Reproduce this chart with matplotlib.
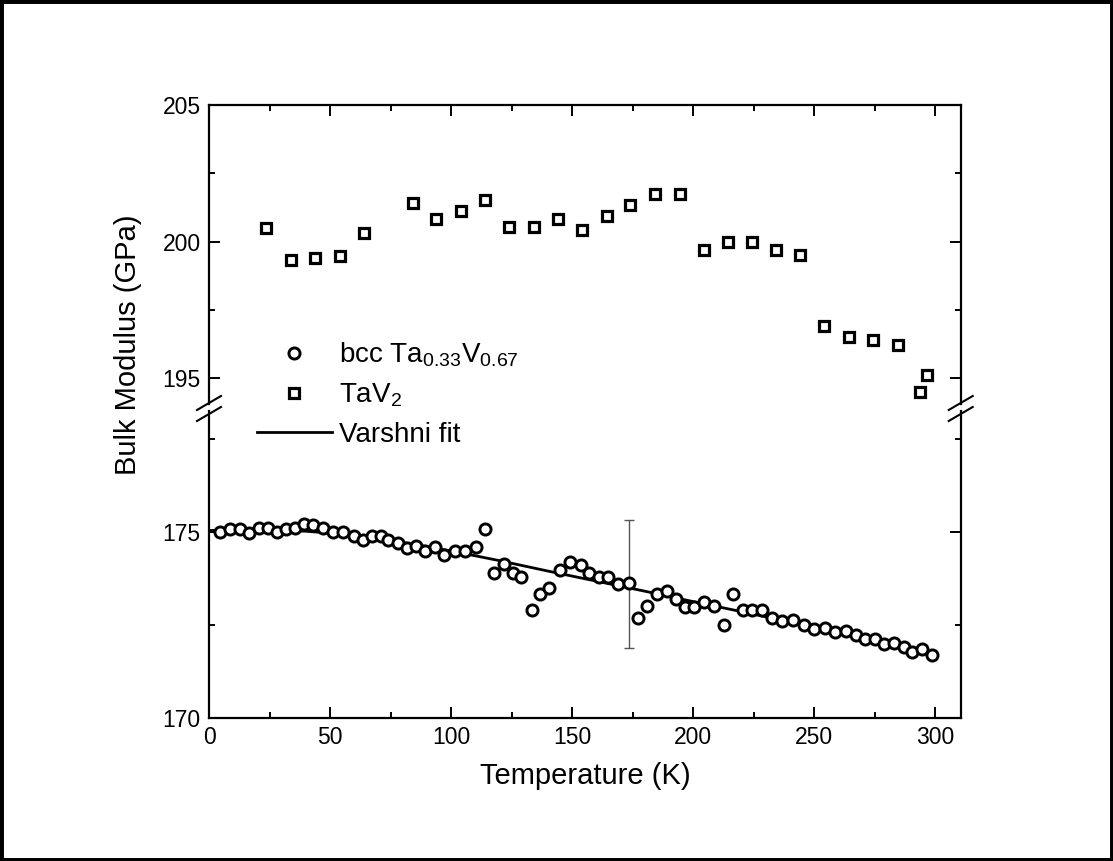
import numpy as np
import matplotlib.pyplot as plt
from matplotlib.lines import Line2D
from matplotlib.patches import Rectangle

plt.rcParams['font.family'] = ['Liberation Sans', 'DejaVu Sans']
plt.rcParams['mathtext.fontset'] = 'custom'
plt.rcParams['mathtext.rm'] = 'Liberation Sans'
plt.rcParams['mathtext.it'] = 'Liberation Sans'

# bcc Ta0.33V0.67 (circles)
T_bcc = [4.5, 8.7, 12.8, 16.5, 20.5, 24.5, 28.1, 31.8, 35.7, 39.1, 43.1, 47.0,
         51.4, 55.5, 60.1, 63.8, 67.5, 71.1, 74.1, 78.0, 81.7, 85.4, 89.4, 93.5,
         97.2, 101.5, 105.8, 110.3, 114.2, 117.8, 122.0, 125.5, 129.0, 133.3,
         136.8, 140.6, 145.2, 149.1, 153.7, 157.2, 161.1, 165.0, 169.1, 173.6,
         177.3, 181.1, 185.0, 189.1, 193.0, 196.7, 200.5, 204.7, 208.8, 212.7,
         216.5, 220.5, 224.5, 228.6, 232.5, 236.9, 241.4, 245.9, 250.1, 254.5,
         258.7, 263.1, 267.2, 270.9, 275.2, 279.0, 283.2, 287.3, 290.6, 294.7,
         298.9]
K_bcc = [174.98, 175.07, 175.06, 174.97, 175.09, 175.09, 174.98, 175.08, 175.09,
         175.20, 175.19, 175.09, 174.98, 174.99, 174.88, 174.78, 174.88, 174.88,
         174.78, 174.69, 174.57, 174.60, 174.48, 174.59, 174.37, 174.49, 174.49,
         174.59, 175.08, 173.90, 174.12, 173.90, 173.79, 172.90, 173.32, 173.49,
         173.98, 174.19, 174.10, 173.90, 173.79, 173.79, 173.59, 173.61, 172.69,
         172.99, 173.32, 173.41, 173.19, 172.98, 172.98, 173.12, 173.00, 172.49,
         173.31, 172.90, 172.90, 172.90, 172.69, 172.59, 172.63, 172.49, 172.39,
         172.42, 172.30, 172.34, 172.21, 172.11, 172.12, 171.97, 172.02, 171.91,
         171.77, 171.84, 171.69]

# TaV2 (squares)
T_tav2 = [23.4, 33.8, 43.9, 54.0, 64.0, 84.2, 93.8, 104.0, 114.0, 124.0, 134.4,
          144.2, 154.3, 164.3, 174.1, 184.3, 194.5, 204.4, 214.6, 224.5, 234.4,
          244.3, 254.3, 264.6, 274.5, 284.8, 293.8, 296.8]
K_tav2 = [200.51, 199.32, 199.40, 199.49, 200.32, 201.43, 200.82, 201.13, 201.52,
          200.52, 200.52, 200.83, 200.41, 200.93, 201.33, 201.73, 201.73, 199.69,
          200.00, 200.00, 199.71, 199.51, 196.90, 196.52, 196.41, 196.21, 194.51,
          195.11]

# Varshni fit curve
T_fit = [0, 10, 20, 30, 40, 50, 60, 70, 80, 90, 100, 120, 140, 160, 180, 200,
         220, 240, 260, 280, 299]
K_fit = [175.03, 175.04, 175.04, 175.03, 175.01, 174.96, 174.89, 174.81, 174.71,
         174.60, 174.48, 174.22, 173.94, 173.67, 173.40, 173.12, 172.85, 172.57,
         172.29, 172.01, 171.74]

# single error bar
T_err = [173.4]
K_err = [173.58]
dK_err = [1.72]

W, H = 1113, 861
fig = plt.figure(figsize=(W / 100, H / 100), dpi=100)

def fx(px):
    return px / W

def fy(py):
    return 1 - py / H

left, right = 209, 960.7
up_top, up_bot = 105, 404
lo_top, lo_bot = 411, 717.7

ax_up = fig.add_axes([fx(left), fy(up_bot), fx(right) - fx(left), fy(up_top) - fy(up_bot)])
ax_lo = fig.add_axes([fx(left), fy(lo_bot), fx(right) - fx(left), fy(lo_top) - fy(lo_bot)])

ax_up.set_ylim(194.06, 205)
ax_lo.set_ylim(170, 178.24)
for ax in (ax_up, ax_lo):
    ax.set_xlim(0, 310.6)
    ax.set_xticks([0, 50, 100, 150, 200, 250, 300])
    ax.set_xticks([25, 75, 125, 175, 225, 275], minor=True)
    for s in ax.spines.values():
        s.set_linewidth(1.6)
    ax.tick_params(which='both', direction='in', width=1.4, labelsize=16.5, pad=6)
    ax.tick_params(which='major', length=8)
    ax.tick_params(which='minor', length=4.5)

ax_up.set_yticks([195, 200, 205])
ax_up.set_yticks([197.5, 202.5], minor=True)
ax_lo.set_yticks([170, 175])
ax_lo.set_yticks([172.5, 177.5], minor=True)

ax_up.spines['bottom'].set_visible(False)
ax_up.tick_params(which='both', top=True, bottom=False, right=True, labelbottom=False)
ax_lo.spines['top'].set_visible(False)
ax_lo.tick_params(which='both', top=False, bottom=True, right=True)

sq, = ax_up.plot(T_tav2, K_tav2, ls='none', marker='s', ms=7, mfc='white',
                 mec='black', mew=2.3, label='TaV$_2$')
circ, = ax_lo.plot(T_bcc, K_bcc, ls='none', marker='o', ms=8, mfc='white',
                   mec='black', mew=2.1, label='bcc Ta$_{0.33}$V$_{0.67}$', zorder=3)
fit, = ax_lo.plot(T_fit, K_fit, color='black', lw=2, label='Varshni fit', zorder=2)
ax_lo.errorbar(T_err, K_err, yerr=dK_err, fmt='none', ecolor='#555555', elinewidth=1,
               capsize=3.6, capthick=1, zorder=1)

ax_lo.set_xlabel('Temperature (K)', fontsize=21, labelpad=9)
fig.text(fx(128), fy(345), 'Bulk Modulus (GPa)', rotation=90, fontsize=21,
         ha='center', va='center')

# axis break marks on both sides
for xc in (left, right):
    for yc in (403, 414):
        fig.add_artist(Line2D([fx(xc - 12), fx(xc + 12)], [fy(yc + 7), fy(yc - 7)],
                              color='black', lw=1.5))

fig.legend(handles=[circ, sq, fit], loc='upper left',
           bbox_to_anchor=(fx(243), fy(327)), frameon=False, fontsize=20,
           handlelength=2.7, handletextpad=0.25, labelspacing=0.45, borderpad=0)

# outer frame of the scanned figure
fig.add_artist(Rectangle((0, 0), 1, 1, transform=fig.transFigure, fill=False,
                         lw=5, edgecolor='black'))

fig.savefig('out.png', dpi=100)
